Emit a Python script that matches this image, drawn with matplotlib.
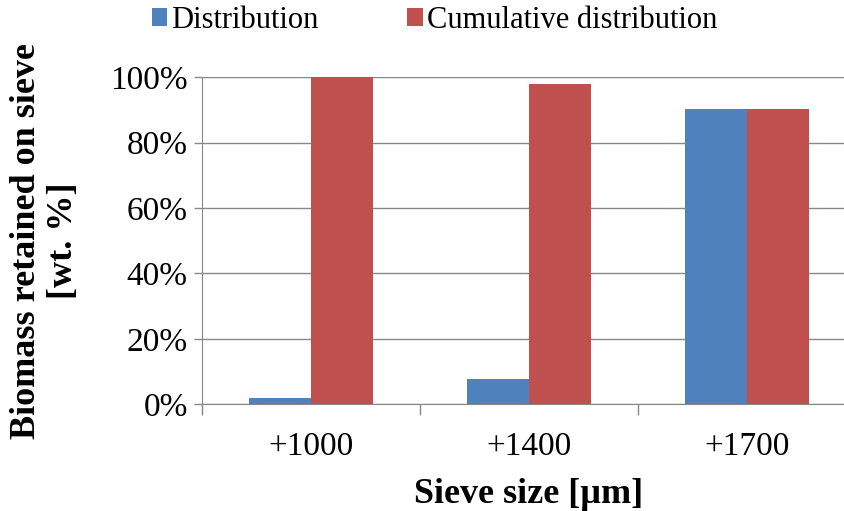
import matplotlib.pyplot as plt
import numpy as np
from matplotlib.ticker import PercentFormatter

sizes = ['+1000', '+1400', '+1700']
distribution = [1.8, 7.7, 90.3]
cumulative = [100.0, 98.0, 90.3]

plt.rcParams['font.family'] = 'Liberation Serif'

fig = plt.figure(figsize=(8.44, 5.11), dpi=100)
ax = fig.add_axes([0.239, 0.209, 0.775, 0.640])

x = np.arange(len(sizes))
w = 0.285
ax.bar(x - w / 2, distribution, w, color='#4F81BD', label='Distribution', zorder=3)
ax.bar(x + w / 2, cumulative, w, color='#C0504D', label='Cumulative distribution', zorder=3)

ax.set_xlim(-0.5, 2.5)
ax.set_ylim(0, 100)
ax.set_yticks(np.arange(0, 101, 20))
ax.yaxis.set_major_formatter(PercentFormatter(decimals=0))
ax.yaxis.grid(True, color='#888888', linewidth=1, zorder=0)

ax.set_xticks(x)
ax.set_xticklabels(sizes)
ax.set_xticks([-0.5, 0.5, 1.5, 2.5], minor=True)
ax.tick_params(axis='x', which='major', length=0, pad=20, labelsize=24)
ax.tick_params(axis='x', which='minor', length=8, color='#888888', width=1)
ax.tick_params(axis='y', length=6, color='#888888', width=1, labelsize=24, pad=4)

for s in ['top', 'right']:
    ax.spines[s].set_visible(False)
for s in ['left', 'bottom']:
    ax.spines[s].set_color('#888888')

ax.set_xlabel('Sieve size [µm]', fontsize=26, fontweight='bold', labelpad=11)
ax.set_ylabel('Biomass retained on sieve\n[wt. %]', fontsize=26, fontweight='bold',
              labelpad=22, linespacing=1.15)

ax.legend(loc='center', bbox_to_anchor=(0.356, 1.174), ncol=2, frameon=False,
          fontsize=22, handlelength=0.5, handleheight=0.5, handletextpad=0.15,
          columnspacing=2.9, borderpad=0)

fig.savefig('out.png', dpi=100)
